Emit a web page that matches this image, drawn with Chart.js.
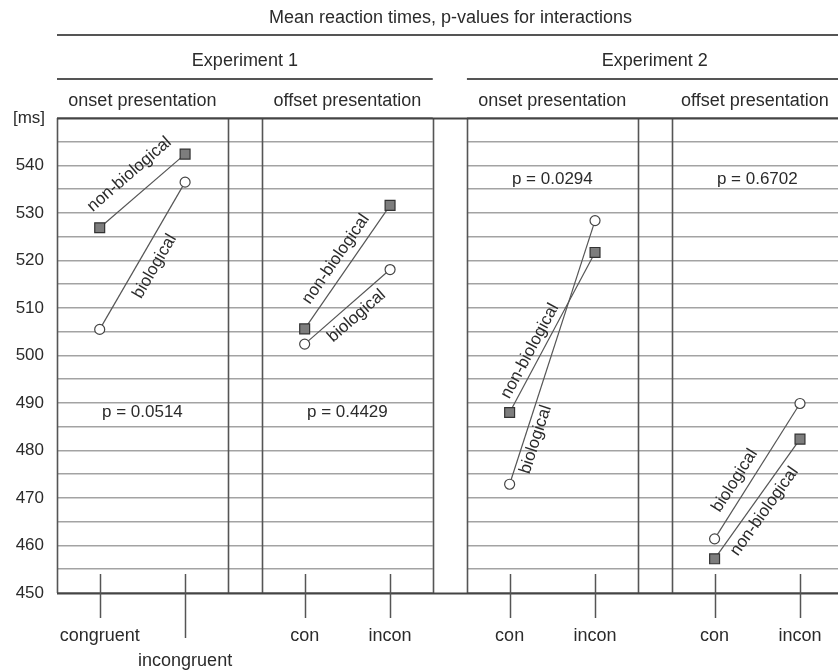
<!DOCTYPE html>
<html>
<head>
<meta charset="utf-8">
<script src="https://cdn.jsdelivr.net/npm/chart.js@4.4.1/dist/chart.umd.min.js"></script>
<style>
html, body { margin: 0; padding: 0; background: #fff; }
canvas { display: block; }
</style>
</head>
<body>
<canvas id="c" width="838" height="671"></canvas>
<script>
// ---------------- data ----------------
const chartTitle = 'Mean reaction times, p-values for interactions';
const experimentNames = ['Experiment 1', 'Experiment 2'];
const panelTitles = ['onset presentation', 'offset presentation', 'onset presentation', 'offset presentation'];
const categoryLabels = [['congruent', 'incongruent'], ['con', 'incon'], ['con', 'incon'], ['con', 'incon']];
const seriesNames = ['biological', 'non-biological'];
const biological    = [[505.5, 536.5], [502.4, 518.1], [472.9, 528.4], [461.4, 489.9]];
const nonBiological = [[526.9, 542.4], [505.6, 531.6], [488.0, 521.7], [457.2, 482.4]];
const pValueTexts = ['p = 0.0514', 'p = 0.4429', 'p = 0.0294', 'p = 0.6702'];
const pValueLevels = [488, 488, 537, 537];
const yTickValues = [450, 460, 470, 480, 490, 500, 510, 520, 530, 540];
const yUnit = '[ms]';

// ---------------- layout (x units) ----------------
const PANEL_SPAN = 2, GAP_SPAN = 0.4, X_MAX = 9.145;
const Y_MIN = 450, Y_MAX = 550, Y_GRID = 5;
const panelStart = p => p * (PANEL_SPAN + GAP_SPAN);
const catX = (p, c) => panelStart(p) + 0.5 + c;
const experimentPanels = [[0, 1], [2, 3]];
// label placement along each line: side (+1 above-left, -1 below-right), shift along line (px), distance (px)
const labelPlacement = [
  { bio: { side: -1, shift: -3, dist: 16 }, non: { side: 1, shift: 1, dist: 21 } },
  { bio: { side: -1, shift: 1, dist: 13 },  non: { side: 1, shift: 0, dist: 14 } },
  { bio: { side: -1, shift: -88, dist: 11 }, non: { side: 1, shift: -27, dist: 11 } },
  { bio: { side: 1, shift: -20, dist: 14 },  non: { side: -1, shift: -6, dist: 13 } }
];

const FONT = '"Liberation Sans", Arial, Helvetica, sans-serif';
const TEXT = '#2b2b2b';

const datasets = [];
for (let p = 0; p < 4; p++) {
  datasets.push({
    label: seriesNames[0], panel: p, key: 'bio',
    data: biological[p].map((v, c) => ({ x: catX(p, c), y: v })),
    showLine: true, borderColor: '#555', borderWidth: 1.2,
    pointStyle: 'circle', pointRadius: 5, pointBackgroundColor: '#fff',
    pointBorderColor: '#444', pointBorderWidth: 1.2
  });
  datasets.push({
    label: seriesNames[1], panel: p, key: 'non',
    data: nonBiological[p].map((v, c) => ({ x: catX(p, c), y: v })),
    showLine: true, borderColor: '#555', borderWidth: 1.2,
    pointStyle: 'rect', pointRadius: 7, pointBackgroundColor: '#7d7d7d',
    pointBorderColor: '#333', pointBorderWidth: 1.2
  });
}

const xTickPositions = [];
const xTickTexts = [];
categoryLabels.forEach((labs, p) => labs.forEach((l, c) => {
  xTickPositions.push(catX(p, c));
  xTickTexts.push(p === 0 && c === 1 ? ['', l] : l);
}));

const decor = {
  id: 'decor',
  beforeDatasetsDraw(chart) {
    const { ctx, chartArea: a, scales: { x, y } } = chart;
    ctx.save();
    // blank gap between the two experiments
    const g0 = x.getPixelForValue(panelStart(2) - GAP_SPAN), g1 = x.getPixelForValue(panelStart(2));
    ctx.fillStyle = '#fff';
    ctx.fillRect(g0, a.top - 1, g1 - g0, a.bottom - a.top + 2);
    // vertical panel borders
    ctx.strokeStyle = '#555';
    ctx.lineWidth = 1.6;
    const borders = [0];
    for (let p = 0; p < 4; p++) {
      if (p > 0) borders.push(panelStart(p));
      borders.push(panelStart(p) + PANEL_SPAN);
    }
    borders.forEach(b => {
      const px = Math.round(x.getPixelForValue(b)) + 0.5;
      if (px > a.right + 1) return;
      ctx.beginPath(); ctx.moveTo(px, a.top); ctx.lineTo(px, a.bottom); ctx.stroke();
    });
    // top and bottom borders
    ctx.strokeStyle = '#444';
    ctx.lineWidth = 1.8;
    [Y_MAX, Y_MIN].forEach(v => {
      const py = Math.round(y.getPixelForValue(v)) + 0.5;
      ctx.beginPath(); ctx.moveTo(a.left, py); ctx.lineTo(a.right, py); ctx.stroke();
    });
    // category tick marks
    ctx.strokeStyle = '#555';
    ctx.lineWidth = 1.5;
    const t0 = y.getPixelForValue(Y_MIN + 4);
    xTickPositions.forEach((v, i) => {
      const px = Math.round(x.getPixelForValue(v)) + 0.5;
      const long = Array.isArray(xTickTexts[i]);
      ctx.beginPath(); ctx.moveTo(px, t0); ctx.lineTo(px, a.bottom + (long ? 45 : 25)); ctx.stroke();
    });
    ctx.restore();
  },
  afterDatasetsDraw(chart) {
    const { ctx, scales: { x, y } } = chart;
    ctx.save();
    ctx.fillStyle = TEXT;
    ctx.font = '17px ' + FONT;
    ctx.textAlign = 'center';
    ctx.textBaseline = 'middle';
    chart.data.datasets.forEach(ds => {
      const pl = labelPlacement[ds.panel][ds.key];
      const x0 = x.getPixelForValue(ds.data[0].x), y0 = y.getPixelForValue(ds.data[0].y);
      const x1 = x.getPixelForValue(ds.data[1].x), y1 = y.getPixelForValue(ds.data[1].y);
      const len = Math.hypot(x1 - x0, y1 - y0);
      const ux = (x1 - x0) / len, uy = (y1 - y0) / len;
      const nx = pl.side > 0 ? uy : -uy, ny = pl.side > 0 ? -ux : ux;
      const cx = (x0 + x1) / 2 + ux * pl.shift + nx * pl.dist;
      const cy = (y0 + y1) / 2 + uy * pl.shift + ny * pl.dist;
      ctx.save();
      ctx.translate(cx, cy);
      ctx.rotate(Math.atan2(y1 - y0, x1 - x0));
      ctx.fillText(ds.label, 0, 0);
      ctx.restore();
    });
    ctx.font = '17px ' + FONT;
    pValueTexts.forEach((t, p) => {
      ctx.fillText(t, x.getPixelForValue(panelStart(p) + PANEL_SPAN / 2), y.getPixelForValue(pValueLevels[p]));
    });
    ctx.restore();
  },
  afterDraw(chart) {
    const { ctx, chartArea: a, scales: { x } } = chart;
    ctx.save();
    ctx.fillStyle = TEXT;
    ctx.font = '18px ' + FONT;
    ctx.textAlign = 'center';
    ctx.textBaseline = 'middle';
    ctx.fillText(chartTitle, (a.left + a.right) / 2 + 3, 18);
    ctx.strokeStyle = '#555';
    ctx.lineWidth = 2;
    ctx.beginPath(); ctx.moveTo(a.left, 35); ctx.lineTo(a.right, 35); ctx.stroke();
    experimentPanels.forEach((ps, e) => {
      const l = x.getPixelForValue(panelStart(ps[0]));
      const r = x.getPixelForValue(panelStart(ps[1]) + PANEL_SPAN);
      ctx.fillText(experimentNames[e], (l + r) / 2, 61);
      ctx.beginPath(); ctx.moveTo(l, 79); ctx.lineTo(Math.min(r, a.right), 79); ctx.stroke();
    });
    panelTitles.forEach((t, p) => {
      let l = x.getPixelForValue(panelStart(p));
      let r = x.getPixelForValue(panelStart(p) + PANEL_SPAN);
      if (r > a.right) r = a.right;
      ctx.fillText(t, (l + r) / 2, 101);
    });
    ctx.font = '17px ' + FONT;
    ctx.fillText(yUnit, 29, 118);
    ctx.restore();
  }
};

new Chart(document.getElementById('c'), {
  type: 'scatter',
  data: { datasets },
  options: {
    responsive: false,
    devicePixelRatio: 1,
    animation: false,
    events: [],
    layout: { autoPadding: false, padding: { top: 118, left: 0, right: 0, bottom: 0 } },
    plugins: { legend: { display: false }, tooltip: { enabled: false }, title: { display: false } },
    scales: {
      x: {
        type: 'linear', min: 0, max: X_MAX,
        grid: { display: false, drawTicks: false },
        border: { display: false },
        afterBuildTicks: s => { s.ticks = xTickPositions.map(v => ({ value: v })); },
        afterFit: s => { s.height = 78; s.paddingLeft = 0; s.paddingRight = 0; },
        ticks: {
          autoSkip: false, maxRotation: 0, padding: 30,
          color: TEXT, font: { family: FONT, size: 18, lineHeight: 1.4 },
          callback: (v, i) => xTickTexts[i]
        }
      },
      y: {
        type: 'linear', min: Y_MIN, max: Y_MAX,
        afterBuildTicks: s => {
          const t = [];
          for (let v = Y_MIN; v <= Y_MAX; v += Y_GRID) t.push({ value: v });
          s.ticks = t;
        },
        afterFit: s => { s.width = 57; s.paddingTop = 0; s.paddingBottom = 0; },
        grid: { color: '#a3a3a3', lineWidth: 1.6, drawTicks: false },
        border: { display: false },
        ticks: {
          padding: 13, color: TEXT, font: { family: FONT, size: 17 },
          callback: v => yTickValues.includes(v) ? String(v) : ''
        }
      }
    }
  },
  plugins: [decor]
});
</script>
</body>
</html>
